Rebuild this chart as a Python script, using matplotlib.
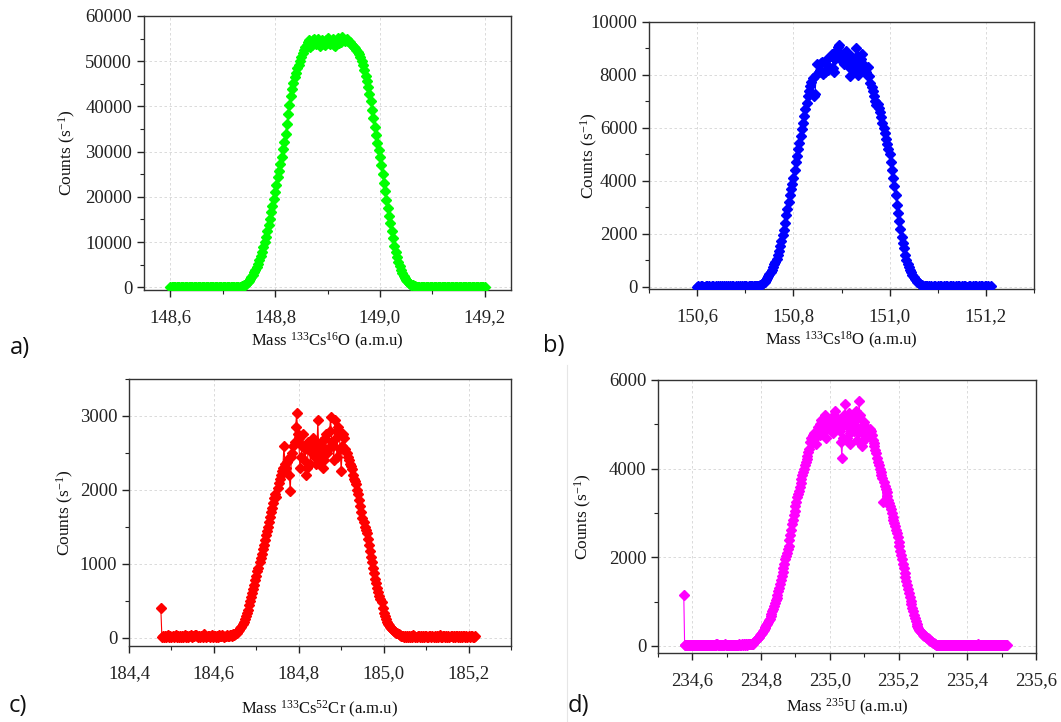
import numpy as np
import matplotlib
matplotlib.use("Agg")
import matplotlib.pyplot as plt
from matplotlib.ticker import MultipleLocator, FuncFormatter
from matplotlib.lines import Line2D

plt.rcParams['font.family'] = ['Liberation Serif', 'DejaVu Serif']
plt.rcParams['mathtext.fontset'] = 'custom'
plt.rcParams['mathtext.rm'] = 'Liberation Serif'
plt.rcParams['mathtext.it'] = 'Liberation Serif:italic'

# ---------------- data ----------------
# Each scan: segments (start mass, counts), constant mass step within a scan.
mass_step = 0.0025

# a) 133Cs16O
a_base_left_start = 148.600
a_base_left = [
    40, 30, 50, 20, 40, 30, 50, 40, 30, 20,
    40, 50, 30, 40, 20, 30, 40, 50, 30, 40,
    30, 20, 40, 50, 30, 40, 20, 30, 50, 40,
    30, 40, 20, 50, 30, 40, 30, 20, 40, 50,
    30, 40, 50, 30, 40, 20, 30, 50, 40, 60,
    70, 80, 100, 120,
]
a_peak_start = 148.735
a_peak = [
    150, 250, 400, 600, 800, 1100, 1400, 1800, 2200, 2700,
    3300, 3900, 4500, 5200, 6000, 6900, 7800, 8900, 10000, 11200,
    12400, 13800, 15200, 16600, 18000, 19500, 21000, 22700, 24300, 25800,
    27300, 28900, 30500, 32200, 34000, 36200, 38300, 40400, 42300, 43900,
    45200, 46400, 47500, 48400, 49200, 50100, 51000, 51800, 52500, 53100,
    53600, 54200, 54700, 53200, 53500, 54600, 55000, 53700, 54200, 54900,
    53300, 54100, 54600, 53800, 53600, 54700, 55200, 54000, 53800, 54500,
    54900, 53600, 53400, 54700, 55100, 54000, 54300, 55300, 55000, 54400,
    54800, 54900, 54500, 54200, 53900, 53600, 53200, 52900, 52500, 52100,
    51600, 50900, 50000, 49100, 48000, 46800, 45600, 44200, 42800, 41100,
    39300, 37400, 35500, 33700, 32000, 30400, 28900, 27000, 25000, 23100,
    21200, 19300, 17500, 15800, 14200, 12500, 10800, 9200, 7800, 6600,
    5600, 4700, 3800, 3100, 2500, 2000, 1600, 1300, 1000, 800,
    600, 450, 300, 220, 150, 100, 60,
]
a_base_right_start = 149.0775
a_base_right = [
    40, 30, 50, 20, 40, 30, 50, 40, 30, 20,
    40, 50, 30, 40, 20, 30, 40, 50, 30, 40,
    30, 20, 40, 50, 30, 40, 20, 30, 50, 40,
    30, 40, 20, 50, 30, 40, 30, 20, 40, 50,
    30, 40, 50, 30, 40, 20, 30, 50, 40, 30,
]

# b) 133Cs18O
b_base_left_start = 150.600
b_base_left = [
    10, 20, 10, 15, 20, 10, 5, 15, 20, 10,
    15, 10, 20, 15, 10, 5, 15, 20, 10, 15,
    10, 20, 15, 10, 20, 10, 15, 20, 10, 15,
    20, 10, 15, 5, 20, 10, 15, 20, 10, 15,
    20, 15, 10, 20, 15, 25, 20, 30, 25, 35,
    40, 50, 60, 80,
]
b_peak_start = 150.735
b_peak = [
    100, 140, 190, 260, 330, 410, 500, 570, 650, 750,
    850, 950, 1050, 1200, 1350, 1550, 1750, 1950, 2150, 2400,
    2700, 2950, 3200, 3450, 3700, 3900, 4100, 4400, 4700, 4950,
    5200, 5450, 5700, 5950, 6200, 6450, 6700, 6950, 7200, 7400,
    7600, 7750, 7900, 7200, 7300, 8000, 8400, 8100, 8200, 8450,
    8500, 8050, 8100, 8400, 8600, 8200, 8300, 8700, 8800, 8250,
    8100, 8600, 8950, 9050, 9150, 8800, 8700, 8500, 8400, 8650,
    8900, 8600, 8300, 7950, 8700, 8500, 8200, 8400, 9000, 8700,
    8000, 8300, 8600, 8800, 8400, 8200, 8100, 8000, 8300, 7950,
    7700, 7550, 7400, 7200, 7000, 6850, 6900, 6750, 6600, 6400,
    6200, 6000, 5800, 5600, 5400, 5200, 5000, 4700, 4400, 4100,
    3800, 3450, 3100, 2800, 2500, 2200, 1900, 1650, 1450, 1200,
    1000, 870, 750, 650, 550, 460, 380, 310, 250, 190,
    140, 110, 80, 60, 40, 30, 20,
]
b_base_right_start = 151.0775
b_base_right = [
    15, 10, 20, 15, 10, 5, 15, 20, 10, 15,
    10, 20, 15, 10, 20, 10, 15, 20, 10, 15,
    20, 10, 15, 5, 20, 10, 15, 20, 10, 15,
    10, 20, 15, 10, 5, 15, 20, 10, 15, 10,
    20, 15, 10, 20, 10, 15, 20, 10, 15, 20,
    10, 15, 10, 15,
]

# c) 133Cs52Cr
c_base_left_start = 184.475
c_base_left = [
    400,
    10, 25, 5, 30, 15, 20, 40, 10, 20, 15,
    30, 10, 25, 45, 15, 20, 10, 30, 15, 25,
    10, 20, 35, 15, 25, 10, 20, 45, 15, 30,
    20, 35, 40, 30, 10, 25, 15, 20, 30, 10,
    55, 20, 15, 30, 25, 10, 20, 35, 15, 25,
    20, 10, 30, 15, 40, 25, 20, 35, 30, 15,
    25, 40, 30, 20, 45, 35, 30, 50, 40,
]
c_peak_start = 184.650
c_peak = [
    50, 60, 70, 90, 110, 130, 150, 185, 220, 260,
    300, 340, 380, 440, 500, 555, 610, 665, 720, 780,
    840, 900, 950, 1020, 1080, 1140, 1200, 1260, 1320, 1390,
    1450, 1500, 1560, 1630, 1700, 1760, 1820, 1890, 1950, 1900,
    2020, 2100, 2150, 2200, 2250, 2300, 2600, 2350, 2300, 2380,
    2420, 2200, 1980, 2450, 2500, 2600, 2650, 2850, 3040, 2750,
    2700, 2300, 2450, 2600, 2750, 2400, 2550, 2200, 2300, 2650,
    2600, 2350, 2500, 2700, 2650, 2450, 2350, 2550, 2950, 2400,
    2500, 2650, 2600, 2300, 2400, 2700, 2750, 2500, 2550, 2800,
    2980, 2650, 2600, 2400, 2950, 2700, 2450, 2850, 2800, 2550,
    2250, 2600, 2750, 2700, 2550, 2500, 2450, 2400, 2350, 2320,
    2280, 2200, 2150, 2120, 2080, 2000, 1950, 1870, 1780, 1700,
    1620, 1560, 1500, 1460, 1420, 1330, 1250, 1170, 1100, 1020,
    950, 880, 800, 740, 680, 620, 560, 520, 480, 400,
    330, 290, 250, 220, 190, 170, 150, 135, 120, 105,
    90, 80, 70, 60, 50, 40, 30, 25,
]
c_base_right_start = 185.045
c_base_right = [
    20, 10, 25, 15, 30, 10, 20, 15, 25, 10,
    35, 20, 15, 10, 25, 30, 15, 20, 10, 25,
    15, 20, 30, 10, 15, 25, 20, 10, 30, 15,
    20, 10, 25, 15, 20, 35, 15, 10, 20, 30,
    15, 25, 10, 20, 15, 30, 20, 10, 25, 15,
    20, 30, 10, 25, 15, 20, 10, 30, 20, 15,
    25, 10, 20, 15, 30, 20, 10, 15, 20,
]

# d) 235U
d_base_left_start = 234.575
d_base_left = [
    1150,
    10, 20, 15, 25, 10, 30, 20, 15, 10, 25,
    20, 30, 15, 10, 20, 25, 15, 30, 10, 20,
    15, 25, 10, 20, 30, 15, 20, 10, 25, 15,
    20, 30, 20, 15, 25, 30, 40, 30, 40, 20,
    15, 25, 10, 20, 30, 15, 20, 35, 25, 15,
    20, 30, 10, 25, 15, 20, 30, 25, 15, 20,
    30, 20, 25, 35, 20, 30, 25, 40, 30, 35,
    30, 40, 35, 30, 45, 40, 35, 40, 45,
]
d_peak_start = 234.775
d_peak = [
    50, 70, 90, 110, 130, 150, 170, 190, 210, 240,
    270, 300, 330, 365, 400, 435, 470, 505, 540, 575,
    610, 665, 720, 780, 840, 900, 960, 1025, 1090, 1160,
    1230, 1310, 1400, 1490, 1580, 1670, 1760, 1850, 1950, 2020,
    2100, 2180, 2260, 2380, 2500, 2620, 2750, 2850, 2950, 3050,
    3150, 3250, 3350, 3420, 3500, 3590, 3680, 3760, 3850, 3920,
    4000, 4080, 4150, 4220, 4280, 4370, 4450, 4600, 4700, 4650,
    4600, 4750, 4800, 4700, 4550, 4850, 4950, 4800, 4750, 5000,
    5100, 4900, 4850, 5050, 5200, 4950, 4700, 4900, 5050, 4950,
    4900, 5000, 5150, 4950, 4800, 5200, 5300, 5050, 4950, 5000,
    5100, 4900, 4850, 4600, 4250, 4700, 5000, 5200, 5450, 5050,
    4700, 4950, 5250, 4800, 4550, 4900, 5150, 5000, 4850, 5100,
    5300, 4950, 4650, 4800, 5520, 5200, 4950, 4600, 4500, 4800,
    5050, 4850, 4700, 4800, 4900, 4850, 4750, 4900, 4850, 4750,
    4650, 4580, 4500, 4420, 4350, 4250, 4150, 4080, 4000, 3920,
    3850, 3780, 3250, 3700, 3600, 3540, 3480, 3390, 3300, 3220,
    3150, 3080, 3000, 2920, 2850, 2780, 2700, 2620, 2550, 2450,
    2350, 2250, 2150, 2050, 1950, 1850, 1750, 1650, 1560, 1470,
    1380, 1290, 1200, 1110, 1020, 940, 860, 780, 700, 630,
    560, 500, 440, 400, 360, 330, 310, 285, 260, 245,
    230, 215, 200, 185, 170, 150, 130, 115, 100, 85,
    70, 60, 50, 40, 30, 25,
]
d_base_right_start = 235.315
d_base_right = [
    20, 15, 25, 10, 30, 20, 15, 25, 10, 20,
    30, 15, 20, 10, 25, 15, 20, 30, 20, 15,
    25, 10, 20, 15, 25, 30, 10, 20, 15, 25,
    20, 10, 15, 30, 20, 25, 15, 10, 20, 25,
    15, 20, 30, 15, 25, 10, 20, 35, 15, 20,
    25, 15, 10, 20, 30, 15, 25, 20, 10, 15,
    30, 20, 15, 25, 10, 20, 15, 30, 25, 15,
    20, 10, 25, 15, 20, 30, 15, 20, 25, 10,
    15,
]

scans = {
    'a': [(a_base_left_start, a_base_left), (a_peak_start, a_peak), (a_base_right_start, a_base_right)],
    'b': [(b_base_left_start, b_base_left), (b_peak_start, b_peak), (b_base_right_start, b_base_right)],
    'c': [(c_base_left_start, c_base_left), (c_peak_start, c_peak), (c_base_right_start, c_base_right)],
    'd': [(d_base_left_start, d_base_left), (d_peak_start, d_peak), (d_base_right_start, d_base_right)],
}


def assemble(segments):
    xs, ys = [], []
    for start, vals in segments:
        xs.append(start + mass_step * np.arange(len(vals)))
        ys.append(np.asarray(vals, dtype=float))
    return np.concatenate(xs), np.concatenate(ys)


# ---------------- figure ----------------
W, H = 1061, 722
fig = plt.figure(figsize=(W / 100, H / 100), dpi=100)


def box(left, top, right, bottom):
    return [left / W, (H - bottom) / H, (right - left) / W, (bottom - top) / H]


comma = FuncFormatter(lambda v, p: f"{v:.1f}".replace('.', ','))

panels = [
    dict(key='a', pos=box(144, 16, 511, 290), color='#00ff00',
         xlim=(148.55, 149.25), ylim=(-600, 60000), ymaj=10000, ymin=5000,
         xlabel='Mass $^{133}$Cs$^{16}$O (a.m.u)', letter='a)', lpos=(20, 348),
         ylx=78, labelpad=3),
    dict(key='b', pos=box(649, 22, 1034, 289), color='#0000ff',
         xlim=(150.5, 151.3), ylim=(-80, 10000), ymaj=2000, ymin=1000,
         xlabel='Mass $^{133}$Cs$^{18}$O (a.m.u)', letter='b)', lpos=(554, 346),
         ylx=600, labelpad=3),
    dict(key='c', pos=box(129, 379, 511, 646), color='#ff0000',
         xlim=(184.4, 185.3), ylim=(-110, 3500), ymaj=1000, ymin=500,
         xlabel='Mass $^{133}$Cs$^{52}$Cr (a.m.u)', letter='c)', lpos=(18, 706),
         ylx=76, labelpad=12),
    dict(key='d', pos=box(658, 380, 1036, 653), color='#ff00ff',
         xlim=(234.5, 235.6), ylim=(-160, 6000), ymaj=2000, ymin=1000,
         xlabel='Mass $^{235}$U (a.m.u)', letter='d)', lpos=(578, 706),
         ylx=594, labelpad=5),
]

for p in panels:
    ax = fig.add_axes(p['pos'])
    x, y = assemble(scans[p['key']])
    ax.plot(x, y, color=p['color'], lw=0.8, marker='D', ms=5.5,
            mec=p['color'], mfc=p['color'], zorder=3)
    ax.set_xlim(*p['xlim'])
    ax.set_ylim(*p['ylim'])
    ax.xaxis.set_major_locator(MultipleLocator(0.2))
    ax.xaxis.set_minor_locator(MultipleLocator(0.1))
    ax.yaxis.set_major_locator(MultipleLocator(p['ymaj']))
    ax.yaxis.set_minor_locator(MultipleLocator(p['ymin']))
    ax.xaxis.set_major_formatter(comma)
    ax.tick_params(axis='both', which='major', direction='out', length=5, width=1,
                   labelsize=13.5, colors='#222222')
    ax.tick_params(axis='x', which='major', pad=9)
    ax.tick_params(axis='both', which='minor', direction='out', length=3, width=0.8,
                   colors='#222222')
    ax.grid(True, which='major', color='#d4d4d4', lw=0.6, ls=(0, (3, 3)), zorder=0)
    for s in ax.spines.values():
        s.set_color('#333333')
        s.set_linewidth(1.0)
    ax.set_xlabel(p['xlabel'], fontsize=12, labelpad=p['labelpad'], color='#111111')
    ax.set_ylabel('Counts (s$^{-1}$)', fontsize=12.5, color='#111111')
    bb = p['pos']
    ax.yaxis.set_label_coords((p['ylx'] - bb[0] * W) / (bb[2] * W), 0.5)
    fig.text(p['lpos'][0] / W, 1 - p['lpos'][1] / H, p['letter'],
             fontsize=17, family=['Open Sans', 'DejaVu Sans'],
             ha='center', va='center', color='#111111')

fig.add_artist(Line2D([567 / W, 567 / W], [0, 1 - 365 / H], color='#e6e6e6', lw=0.8))

fig.savefig('out.png', dpi=100)
